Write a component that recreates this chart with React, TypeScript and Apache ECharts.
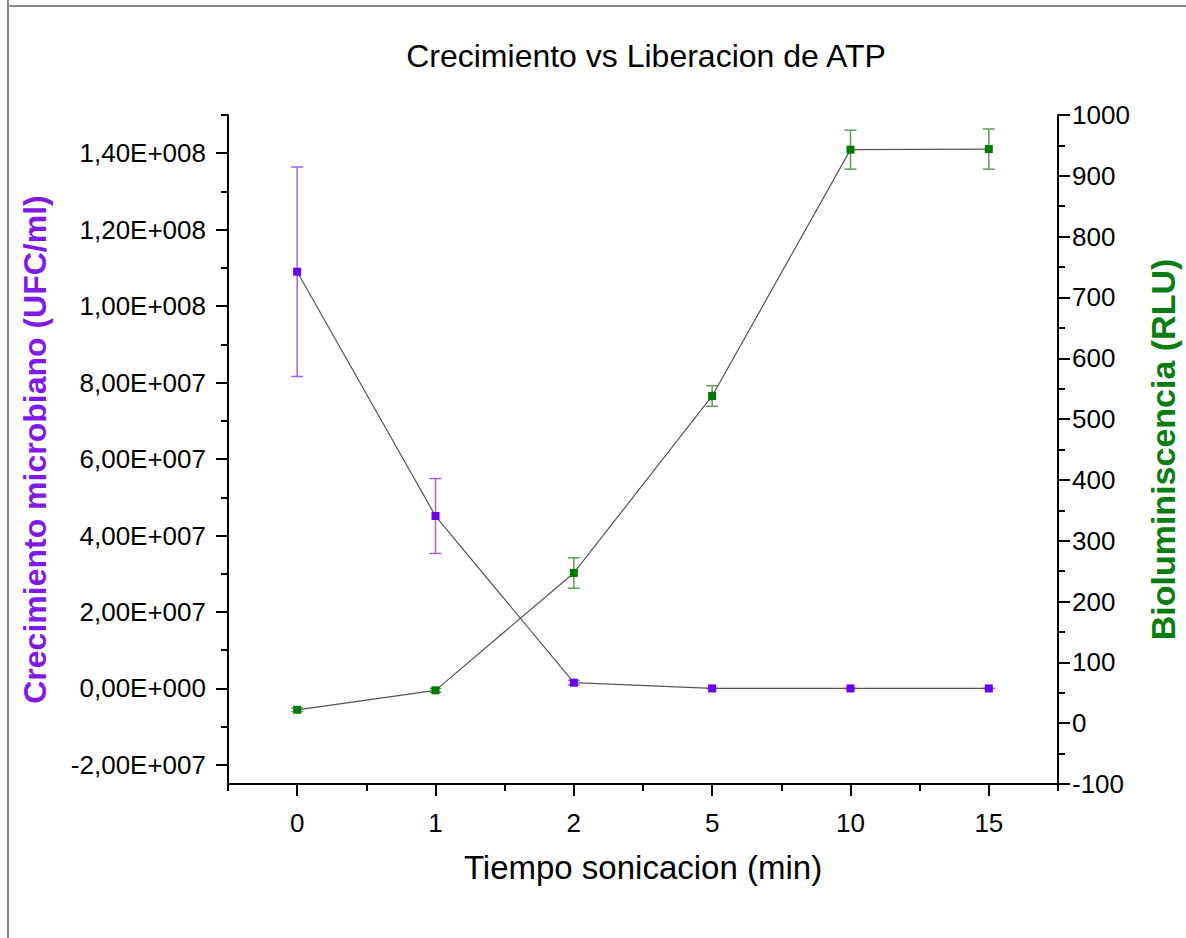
import React, { useEffect, useRef } from "react";
import * as echarts from "echarts";

const categories = ["0", "1", "2", "5", "10", "15"];
const ufcValues = [1.09e8, 4.51e7, 1.5e6, 0, 0, 0];
const ufcErrors = [2.74e7, 9.8e6, 6e5, 0, 0, 0];
const rluValues = [22, 54, 247, 538, 943, 944];
const rluErrors = [3, 3, 25, 17, 32, 33];
const leftTicks = [-2e7, 0, 2e7, 4e7, 6e7, 8e7, 1e8, 1.2e8, 1.4e8];
const leftMinorTicks = [-1e7, 1e7, 3e7, 5e7, 7e7, 9e7, 1.1e8, 1.3e8, 1.5e8];

const FONT = "'Liberation Sans', Arial, Helvetica, sans-serif";

function sciFmt(v: number): string {
  if (v === 0) return "0,00E+000";
  const exp = Math.floor(Math.log10(Math.abs(v)) + 1e-9);
  const mant = v / Math.pow(10, exp);
  const e = String(Math.abs(exp)).padStart(3, "0");
  return mant.toFixed(2).replace(".", ",") + "E" + (exp >= 0 ? "+" : "-") + e;
}

function errorRender(color: string) {
  return (params: any, api: any) => {
    const x = api.value(0);
    const lo = api.value(1);
    const hi = api.value(2);
    const pLo = api.coord([x, lo]);
    const pHi = api.coord([x, hi]);
    const cap = 6;
    const style = { stroke: color, lineWidth: 1.5 };
    return {
      type: "group",
      children: [
        { type: "line", shape: { x1: pLo[0], y1: pLo[1], x2: pHi[0], y2: pHi[1] }, style },
        { type: "line", shape: { x1: pHi[0] - cap, y1: pHi[1], x2: pHi[0] + cap, y2: pHi[1] }, style },
        { type: "line", shape: { x1: pLo[0] - cap, y1: pLo[1], x2: pLo[0] + cap, y2: pLo[1] }, style },
      ],
    };
  };
}

export default function App() {
  const ref = useRef<HTMLDivElement>(null);
  useEffect(() => {
    if (!ref.current) return;
    const chart = echarts.init(ref.current, null, { renderer: "svg" });
    const ufcErrData = categories.map((_, i) => [i, ufcValues[i] - ufcErrors[i], ufcValues[i] + ufcErrors[i]]);
    const rluErrData = categories.map((_, i) => [i, rluValues[i] - rluErrors[i], rluValues[i] + rluErrors[i]]);
    const axisLine = { show: true, onZero: false, lineStyle: { color: "#000", width: 2 } };
    chart.setOption({
      animation: false,
      backgroundColor: "#fff",
      title: {
        text: "Crecimiento vs Liberacion de ATP",
        left: 641,
        top: 35,
        textAlign: "center",
        textStyle: { fontFamily: FONT, fontSize: 32, fontWeight: "normal", color: "#000" },
      },
      grid: { left: 228, right: 128, top: 115, bottom: 154, containLabel: false, outerBoundsMode: "none" },
      xAxis: [
        {
          type: "category",
          data: categories,
          position: "bottom",
          boundaryGap: true,
          axisLine,
          axisTick: { show: true, alignWithLabel: true, length: 12, lineStyle: { color: "#000", width: 2 } },
          axisLabel: { fontFamily: FONT, fontSize: 26, color: "#000", margin: 26 },
          name: "Tiempo sonicacion (min)",
          nameLocation: "middle",
          nameGap: 67,
          nameTextStyle: { fontFamily: FONT, fontSize: 33, color: "#000" },
          splitLine: { show: false },
        },
        {
          type: "category",
          data: categories,
          position: "bottom",
          boundaryGap: true,
          axisLine: { show: false, onZero: false },
          axisTick: { show: true, alignWithLabel: false, length: 7, lineStyle: { color: "#000", width: 2 } },
          axisLabel: { show: false },
          splitLine: { show: false },
        },
      ],
      yAxis: [
        {
          type: "value",
          position: "left",
          min: -2.5e7,
          max: 1.5e8,
          axisLine,
          axisTick: { show: true, length: 12, customValues: leftTicks, lineStyle: { color: "#000", width: 2 } },
          axisLabel: {
            customValues: leftTicks,
            fontFamily: FONT,
            fontSize: 26,
            color: "#000",
            margin: 22,
            formatter: (v: number) => sciFmt(v),
          },
          splitLine: { show: false },
          name: "Crecimiento microbiano (UFC/ml)",
          nameLocation: "middle",
          nameGap: 177,
          nameTextStyle: { fontFamily: FONT, fontSize: 32, fontWeight: "bold", color: "#7f1bea" },
        },
        {
          type: "value",
          position: "left",
          min: -2.5e7,
          max: 1.5e8,
          axisLine: { show: false, onZero: false },
          axisTick: { show: true, length: 7, customValues: leftMinorTicks, lineStyle: { color: "#000", width: 2 } },
          axisLabel: { show: false },
          splitLine: { show: false },
        },
        {
          type: "value",
          position: "right",
          min: -100,
          max: 1000,
          interval: 100,
          axisLine,
          axisTick: { show: true, length: 12, lineStyle: { color: "#000", width: 2 } },
          minorTick: { show: true, splitNumber: 2, length: 7, lineStyle: { color: "#000", width: 2 } },
          axisLabel: { fontFamily: FONT, fontSize: 26, color: "#000", margin: 14, formatter: (v: number) => String(v) },
          splitLine: { show: false },
          name: "Bioluminiscencia (RLU)",
          nameLocation: "middle",
          nameGap: 88,
          nameTextStyle: { fontFamily: FONT, fontSize: 34, fontWeight: "bold", color: "#0a7d12" },
        },
      ],
      series: [
        {
          type: "custom",
          name: "UFC error",
          xAxisIndex: 0,
          yAxisIndex: 0,
          renderItem: errorRender("#a064e6"),
          data: ufcErrData,
          z: 1,
        },
        {
          type: "custom",
          name: "RLU error",
          xAxisIndex: 0,
          yAxisIndex: 2,
          renderItem: errorRender("#5c9e5c"),
          data: rluErrData,
          z: 1,
        },
        {
          type: "line",
          name: "UFC",
          xAxisIndex: 0,
          yAxisIndex: 0,
          data: ufcValues,
          symbol: "rect",
          symbolSize: 8,
          itemStyle: { color: "#6a00f0" },
          lineStyle: { color: "#555", width: 1.2 },
          z: 3,
        },
        {
          type: "line",
          name: "RLU",
          xAxisIndex: 0,
          yAxisIndex: 2,
          data: rluValues,
          symbol: "rect",
          symbolSize: 8,
          itemStyle: { color: "#007a00" },
          lineStyle: { color: "#555", width: 1.2 },
          z: 3,
        },
      ],
      graphic: [
        { type: "line", shape: { x1: 8, y1: 0, x2: 8, y2: 938 }, style: { stroke: "#8a8a8a", lineWidth: 2 } },
        { type: "line", shape: { x1: 8, y1: 6, x2: 1186, y2: 6 }, style: { stroke: "#8a8a8a", lineWidth: 2 } },
      ],
    });
    return () => chart.dispose();
  }, []);
  return (
    <div
      ref={ref}
      style={{ position: "absolute", left: 0, top: 0, width: 1186, height: 938, background: "#fff" }}
    />
  );
}
